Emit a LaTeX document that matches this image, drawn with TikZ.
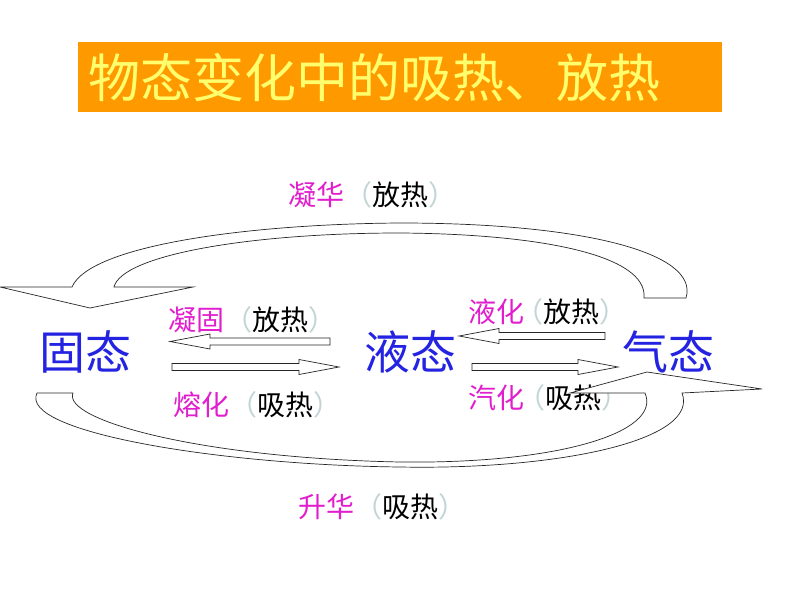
\documentclass[tikz,border=0pt]{standalone}
\usepackage{fontspec}
\usepackage{xcolor}
\usepackage{tikz}
\usetikzlibrary{calc}
\newfontfamily\cjk{Noto Sans CJK SC}

\definecolor{titlebg}{RGB}{255,153,0}
\definecolor{titlefg}{RGB}{255,255,110}
\definecolor{statecol}{RGB}{35,35,225}
\definecolor{proccol}{RGB}{225,30,205}
\definecolor{parencol}{RGB}{195,212,212}

\newcommand{\heat}[3][0pt]{\textcolor{proccol}{#2}\hspace{#1}\textcolor{parencol}{（}#3\textcolor{parencol}{）}}
\newcommand{\blockarrow}[2]{%
  \draw[blockline] ($(#1)+(0,-3.5)$) -- ($(#2)!40pt!(#1)+(0,-3.5)$)
    -- ($(#2)!40pt!(#1)+(0,-7.5)$) -- (#2) -- ($(#2)!40pt!(#1)+(0,7.5)$)
    -- ($(#2)!40pt!(#1)+(0,3.5)$) -- ($(#1)+(0,3.5)$) -- cycle;}

\begin{document}
\begin{tikzpicture}[x=1pt, y=-1pt]
        \tikzstyle{state} = [inner sep=0, text=statecol, font=\cjk\fontsize{46}{48}\selectfont]
        \tikzstyle{proc} = [inner sep=0, anchor=west, font=\cjk\fontsize{28}{30}\selectfont]
        \tikzstyle{blockline} = [draw=black!85, line width=0.7pt, fill=white, line join=miter]
        \useasboundingbox (0,0) rectangle (794,596);

        % title
        \fill[titlebg] (78,42) rectangle (722,112);
        \node[inner sep=0, anchor=west, text=titlefg, font=\cjk\fontsize{52}{54}\selectfont] (title) at (88,78) {物态变化中的吸热、放热};

        % states
        \node[state] (solid) at (85,352) {固态};
        \node[state] (liquid) at (410,352) {液态};
        \node[state] (gas) at (668,352) {气态};

        % processes
        \node[proc] (desub) at (288,195) {\heat{凝华}{放热}};
        \node[proc] (freeze) at (168,320) {\heat{凝固}{放热}};
        \node[proc] (cond) at (468,312) {\heat[-9pt]{液化}{放热}};
        \node[proc] (melt) at (173,405) {\heat{熔化}{吸热}};
        \node[proc] (boil) at (468,398) {\heat[-7pt]{汽化}{吸热}};
        \node[proc] (sublim) at (298,507) {\heat{升华}{吸热}};

        % straight arrows
        \coordinate (fr1) at (330,341.5);
        \coordinate (fr2) at (170,341.5);
        \coordinate (me1) at (172,367);
        \coordinate (me2) at (339,367);
        \coordinate (co1) at (605,336);
        \coordinate (co2) at (459,336);
        \coordinate (bo1) at (472,367);
        \coordinate (bo2) at (618,367);
        \blockarrow{fr1}{fr2}
        \blockarrow{me1}{me2}
        \blockarrow{co1}{co2}
        \blockarrow{bo1}{bo2}

        % gas -> solid
        \draw[blockline] (72,287) .. controls (90,245) and (250,224) .. (400,223)
            .. controls (580,223) and (700,252) .. (686,298) -- (644,298)
            .. controls (648,255) and (540,234) .. (400,233)
            .. controls (250,233) and (122,255) .. (114,287)
            -- (193,287) -- (90,308) -- (0,287) -- cycle;

        % solid -> gas
        \draw[blockline] (37,393) -- (73,393)
            .. controls (62,420) and (200,458) .. (400,462)
            .. controls (560,464) and (662,432) .. (645,393)
            -- (570,393) -- (647,372) -- (762,389) -- (682,393)
            .. controls (700,440) and (560,470) .. (400,467)
            .. controls (220,465) and (18,432) .. (37,393) -- cycle;
    \end{tikzpicture}
\end{document}
